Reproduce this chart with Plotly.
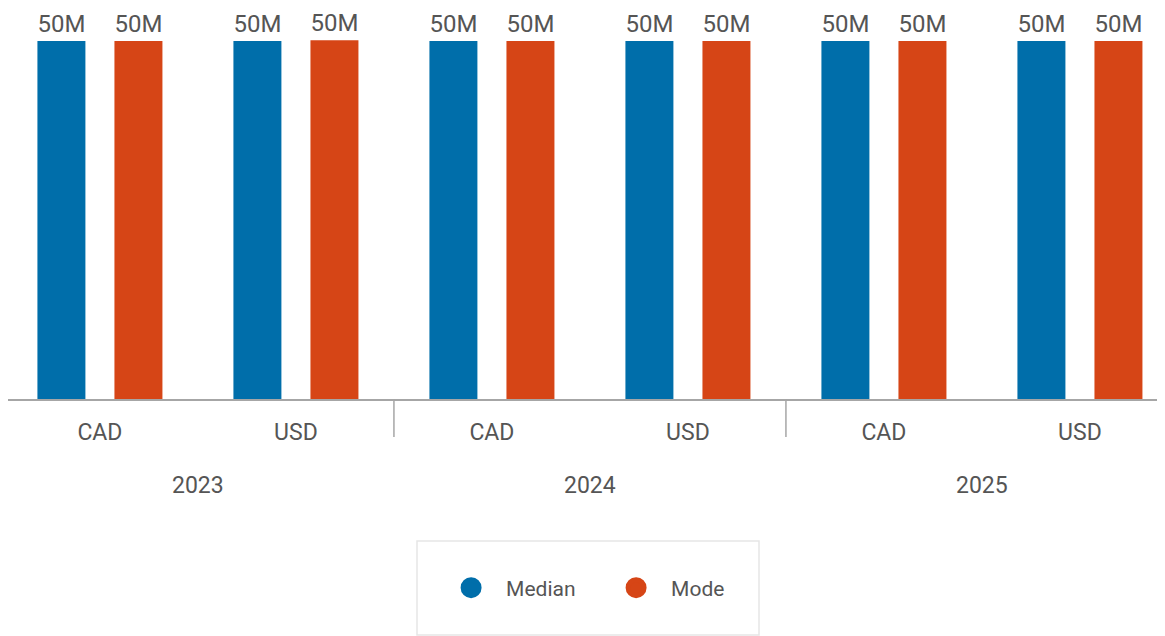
import plotly.graph_objects as go

years = ["2023", "2023", "2024", "2024", "2025", "2025"]
currencies = ["CAD", "USD", "CAD", "USD", "CAD", "USD"]
median_values = [50_000_000, 50_000_000, 50_000_000, 50_000_000, 50_000_000, 50_000_000]
mode_values = [50_000_000, 50_100_000, 50_000_000, 50_000_000, 50_000_000, 50_000_000]
series_names = ["Median", "Mode"]
colors = ["#006EAA", "#D64516"]

FONT = "Roboto, Arial, sans-serif"
TXT = "#555555"
GRID = "#A6A6A6"

categories = [f"{y} {c}" for y, c in zip(years, currencies)]
year_list = list(dict.fromkeys(years))

fig = go.Figure()
for name, vals, col in zip(series_names, [median_values, mode_values], colors):
    fig.add_trace(go.Bar(
        x=categories, y=vals, name=name,
        marker=dict(color=col, line=dict(width=0)),
        texttemplate="%{y:.2s}", textposition="outside",
        textfont=dict(size=24, color=TXT, family=FONT),
        cliponaxis=False, showlegend=False,
    ))
for name, col in zip(series_names, colors):
    fig.add_trace(go.Scatter(
        x=[None], y=[None], mode="markers", name=name,
        marker=dict(symbol="circle", size=16, color=col, line=dict(color=col, width=5)),
        showlegend=True,
    ))

H_PLOT = 391
W = 1157

shapes = []
annotations = []
n_per_year = 2
for i, yr in enumerate(year_list):
    center = i * n_per_year + (n_per_year - 1) / 2
    annotations.append(dict(
        x=center, xref="x", y=-(477 - H_PLOT) / H_PLOT, yref="paper",
        text=yr, showarrow=False, xanchor="center", yanchor="middle",
        font=dict(size=23, color=TXT, family=FONT),
    ))
    if i > 0:
        xd = i * n_per_year - 0.5
        shapes.append(dict(
            type="line", xref="x", yref="paper", x0=xd, x1=xd,
            y0=0, y1=-(429 - H_PLOT) / H_PLOT,
            line=dict(color=GRID, width=1.5),
        ))
shapes.append(dict(
    type="rect", xref="paper", yref="paper",
    x0=409 / W, x1=751 / W,
    y0=-(627 - H_PLOT) / H_PLOT, y1=-(533 - H_PLOT) / H_PLOT,
    line=dict(color="#E6E6E6", width=1.5), fillcolor="rgba(0,0,0,0)", layer="below",
))

fig.update_layout(
    width=W, height=628,
    margin=dict(l=0, r=0, t=0, b=628 - H_PLOT),
    paper_bgcolor="white", plot_bgcolor="white",
    barmode="group", bargap=0.214, bargroupgap=0.377,
    font=dict(family=FONT, size=22, color=TXT),
    showlegend=True,
    legend=dict(
        orientation="h", x=0.37, xanchor="left",
        y=-(580 - H_PLOT) / H_PLOT, yanchor="middle",
        font=dict(size=21, color=TXT, family=FONT),
        itemwidth=60, entrywidth=90, entrywidthmode="pixels",
        bgcolor="rgba(0,0,0,0)", borderwidth=0,
    ),
    shapes=shapes,
    annotations=annotations,
)
fig.update_xaxes(
    type="category", range=[-0.469, 5.434],
    tickvals=categories, ticktext=currencies,
    showline=True, linecolor=GRID, linewidth=2,
    ticks="", ticklabelstandoff=11, showgrid=False, zeroline=False,
    tickfont=dict(size=23, color=TXT, family=FONT),
)
fig.update_yaxes(
    range=[0, 54_610_000], showticklabels=False, showgrid=False,
    zeroline=False, showline=False, ticks="",
)

fig.write_html("out.html")
